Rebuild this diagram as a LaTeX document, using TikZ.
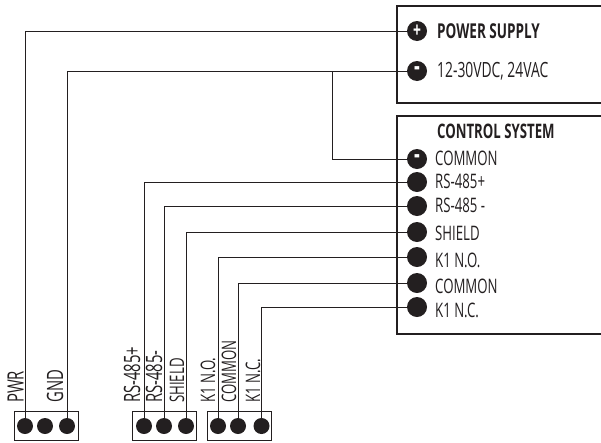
\documentclass[tikz,border=0pt]{standalone}
\usepackage{fontspec}
\setmainfont[FakeStretch=0.66]{Open Sans}
\usepackage{xcolor}
\definecolor{wire}{HTML}{231F20}
\tikzset{
	term/.style={circle,fill=wire,text=white,inner sep=0pt,minimum size=20pt,font=\bfseries\fontsize{21}{21}\selectfont},
	termneg/.style={term,font=\bfseries\fontsize{27}{27}\selectfont},
	pin/.style={circle,fill=wire,inner sep=0pt,minimum size=16pt},
	lbl/.style={anchor=base west,inner sep=0pt,text=wire,font=\fontsize{20}{20}\selectfont},
	vlbl/.style={lbl,rotate=90},
	vlblwide/.style={vlbl,font=\fontsize{22.5}{22.5}\selectfont},
	casing/.style={draw=wire,line width=2.4pt},
	block/.style={draw=wire,line width=0.8pt},
	link/.style={draw=wire,line width=0.9pt},
}
\begin{document}
\begin{tikzpicture}[x=1pt,y=-1pt]
		\useasboundingbox (0,0) rectangle (601,442);
		%boxes
		\draw[casing] (603,6) -- (397,6) -- (397,103) -- (603,103);
		\draw[casing] (603,116) -- (397,116) -- (397,334) -- (603,334);
		\draw[block] (14,411) rectangle (78,440);
		\draw[block] (132,411) rectangle (196,440);
		\draw[block] (207,411) rectangle (271,440);
		%power supply
		\node[term] (psplus) at (417,31) {+};
		\node[termneg] (psminus) at (417,71) {-};
		\node[lbl,font=\bfseries\fontsize{20.5}{20.5}\selectfont] (pstitle) at (437,38) {POWER SUPPLY};
		\node[lbl,font=\fontsize{21}{21}\selectfont] (psvolt) at (437,77) {12-30VDC, 24VAC};
		%control system
		\node[lbl,font=\bfseries\fontsize{20}{20}\selectfont] (cstitle) at (437,138) {CONTROL SYSTEM};
		\node[termneg] (cscommon) at (417,159) {-};
		\node[term] (csplus) at (417,182) {};
		\node[term] (csminus) at (417,206) {};
		\node[term] (csshield) at (417,232) {};
		\node[term] (csno) at (417,257) {};
		\node[term] (cscom) at (417,283) {};
		\node[term] (csnc) at (417,307) {};
		\node[lbl] (txtcommon) at (435,165) {COMMON};
		\node[lbl] (txtplus) at (435,188) {RS-485+};
		\node[lbl] (txtminus) at (435,212) {RS-485 -};
		\node[lbl] (txtshield) at (435,240) {SHIELD};
		\node[lbl] (txtno) at (435,267) {K1 N.O.};
		\node[lbl] (txtcom) at (435,293) {COMMON};
		\node[lbl] (txtnc) at (435,317) {K1 N.C.};
		%connector pins
		\node[pin] (pwr) at (25,426) {};
		\node[pin] (spare) at (45,426) {};
		\node[pin] (gnd) at (67,426) {};
		\node[pin] (rsplus) at (144,426) {};
		\node[pin] (rsminus) at (164,426) {};
		\node[pin] (shield) at (186,426) {};
		\node[pin] (kno) at (218,426) {};
		\node[pin] (kcom) at (238,426) {};
		\node[pin] (knc) at (261.5,426) {};
		\node[vlblwide] (txtpwr) at (23.5,403) {PWR};
		\node[vlblwide] (txtgnd) at (63,403) {GND};
		\node[vlblwide] (txtrsplus) at (140,403) {RS-485+};
		\node[vlblwide] (txtrsminus) at (162,403) {RS-485-};
		\node[vlbl] (txtshield2) at (184,403) {SHIELD};
		\node[vlbl] (txtkno) at (215,403) {K1 N.O.};
		\node[vlbl] (txtkcom) at (236,403) {COMMON};
		\node[vlbl] (txtknc) at (260,403) {K1 N.C.};
		%wires
		\coordinate (tee) at (332,71);
		\draw[link] (pwr) |- (psplus);
		\draw[link] (gnd) |- (psminus);
		\draw[link] (cscommon) -| (tee);
		\draw[link] (rsplus) |- (csplus);
		\draw[link] (rsminus) |- (csminus);
		\draw[link] (shield) |- (csshield);
		\draw[link] (kno) |- (csno);
		\draw[link] (kcom) |- (cscom);
		\draw[link] (knc) |- (csnc);
	\end{tikzpicture}
\end{document}
